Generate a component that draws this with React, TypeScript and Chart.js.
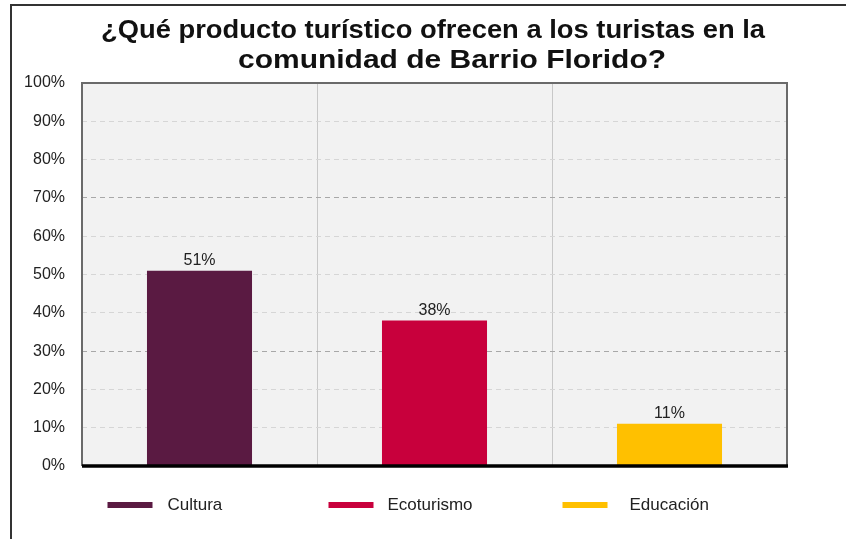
import React, { useEffect, useRef } from "react";
import { Chart, registerables } from "chart.js";

Chart.register(...registerables);

const categories = ["Cultura", "Ecoturismo", "Educación"];
const values = [51, 38, 11];
const barColors = ["#5a1a42", "#c8003c", "#ffc000"];
const titleLines = [
  "¿Qué producto turístico ofrecen a los turistas en la",
  "comunidad de Barrio Florido?",
];
const yMin = 0;
const yMax = 100;
const yStep = 10;

const FONT = "'Liberation Sans', Arial, sans-serif";

// layout-only constants for title and legend placement
const titleLayout = [
  { cx: 433, y: 38, w: 664 },
  { cx: 452, y: 68, w: 428 },
];
const legendMarkerOffsets = [-92, -106, -107];
const legendTextGaps = [60, 59, 67];

const decorPlugin = {
  id: "decor",
  beforeDraw(chart: any) {
    const { ctx, chartArea } = chart;
    ctx.save();
    ctx.fillStyle = "#ffffff";
    ctx.fillRect(0, 0, chart.width, chart.height);
    ctx.fillStyle = "#f2f2f2";
    ctx.fillRect(chartArea.left, chartArea.top, chartArea.right - chartArea.left, chartArea.bottom - chartArea.top);
    // outer border (top + left)
    ctx.strokeStyle = "#333333";
    ctx.lineWidth = 2;
    ctx.beginPath();
    ctx.moveTo(11, chart.height);
    ctx.lineTo(11, 5);
    ctx.lineTo(chart.width, 5);
    ctx.stroke();
    // title
    ctx.fillStyle = "#111111";
    ctx.font = "bold 26px " + FONT;
    ctx.textAlign = "center";
    ctx.textBaseline = "alphabetic";
    titleLines.forEach((t, i) => {
      const L = titleLayout[i];
      const w = ctx.measureText(t).width;
      const sx = L.w / w;
      ctx.save();
      ctx.translate(L.cx, L.y);
      ctx.scale(sx, 1);
      ctx.fillText(t, 0, 0);
      ctx.restore();
    });
    ctx.restore();
  },
  afterDatasetsDraw(chart: any) {
    const { ctx, chartArea } = chart;
    const meta = chart.getDatasetMeta(0);
    ctx.save();
    // frame
    ctx.strokeStyle = "#6a6a6a";
    ctx.lineWidth = 2;
    ctx.beginPath();
    ctx.moveTo(chartArea.left, chartArea.bottom);
    ctx.lineTo(chartArea.left, chartArea.top);
    ctx.lineTo(chartArea.right, chartArea.top);
    ctx.lineTo(chartArea.right, chartArea.bottom);
    ctx.stroke();
    // baseline
    ctx.strokeStyle = "#000000";
    ctx.lineWidth = 3.5;
    ctx.beginPath();
    ctx.moveTo(chartArea.left, chartArea.bottom);
    ctx.lineTo(chartArea.right + 1, chartArea.bottom);
    ctx.stroke();
    // data labels
    ctx.fillStyle = "#222222";
    ctx.font = "16px " + FONT;
    ctx.textAlign = "center";
    ctx.textBaseline = "bottom";
    meta.data.forEach((bar: any, i: number) => {
      ctx.fillText(values[i] + "%", bar.x, bar.y - 2);
    });
    // legend
    const xScale = chart.scales.x;
    const ly = chartArea.bottom + 39;
    categories.forEach((c, i) => {
      const cx = xScale.getPixelForValue(i);
      const start = cx + legendMarkerOffsets[i];
      ctx.fillStyle = barColors[i];
      ctx.fillRect(start, ly - 3, 45, 6);
      ctx.fillStyle = "#222222";
      ctx.textAlign = "left";
      ctx.textBaseline = "middle";
      ctx.font = "17px " + FONT;
      ctx.fillText(c, start + legendTextGaps[i], ly);
    });
    ctx.restore();
  },
};

export default function App() {
  const ref = useRef<HTMLCanvasElement>(null);
  useEffect(() => {
    document.body.style.margin = "0";
    const chart = new Chart(ref.current as HTMLCanvasElement, {
      type: "bar",
      data: {
        labels: categories,
        datasets: [
          {
            data: values,
            backgroundColor: barColors,
            borderWidth: 0,
            categoryPercentage: 1,
            barPercentage: 0.447,
          },
        ],
      },
      options: {
        animation: false,
        responsive: false,
        devicePixelRatio: 1,
        layout: { padding: { top: 83, left: 0, right: 59, bottom: 73 } },
        plugins: {
          legend: { display: false },
          title: { display: false },
          tooltip: { enabled: false },
        },
        scales: {
          x: {
            ticks: { display: false },
            border: { display: false },
            grid: {
              offset: true,
              drawTicks: false,
              lineWidth: 1,
              color: (ctx: any) => {
                const idx = ctx.index;
                if (idx === 0 || idx === categories.length) return "rgba(0,0,0,0)";
                return "#c8c8c8";
              },
            },
            afterFit: (s: any) => {
              s.height = 0;
            },
          },
          y: {
            min: yMin,
            max: yMax,
            ticks: {
              stepSize: yStep,
              padding: 17,
              color: "#222222",
              font: { family: FONT, size: 16 },
              callback: (v: any) => v + "%",
            },
            border: { display: false, dash: [5, 4] },
            grid: {
              drawTicks: false,
              lineWidth: 1,
              color: (ctx: any) => {
                const v = ctx.tick ? ctx.tick.value : -1;
                if (v === 0 || v === 100) return "rgba(0,0,0,0)";
                if (v === 70 || v === 30) return "#a8a8a8";
                return "#d6d6d6";
              },
            },
            afterFit: (s: any) => {
              s.width = 82;
            },
          },
        },
      },
      plugins: [decorPlugin],
    } as any);
    return () => chart.destroy();
  }, []);
  return (
    <div style={{ width: 846, height: 539, position: "relative" }}>
      <canvas ref={ref} width={846} height={539} style={{ display: "block" }} />
    </div>
  );
}
